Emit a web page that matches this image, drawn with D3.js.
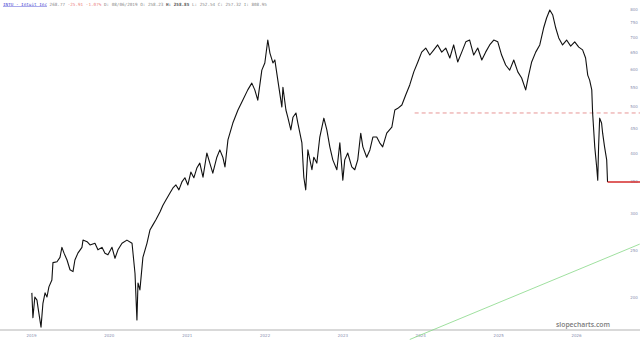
<!DOCTYPE html>
<html>
<head>
<meta charset="utf-8">
<script src="https://cdn.jsdelivr.net/npm/d3@7"></script>
<style>
  body { margin: 0; background: #fff; }
  svg { display: block; }
</style>
</head>
<body>
<svg id="canvas"></svg>
<script>
let width = 640
let height = 340

// price history
let dates = [
  "2019-01-05","2019-01-10","2019-01-19","2019-01-29","2019-02-03","2019-02-17","2019-02-26","2019-03-08","2019-03-17","2019-03-26",
  "2019-04-09","2019-04-14","2019-05-03","2019-05-17","2019-05-26","2019-06-05","2019-06-19","2019-07-03","2019-07-17","2019-07-26",
  "2019-08-09","2019-08-28","2019-09-02","2019-09-21","2019-10-05","2019-10-28","2019-11-11","2019-11-30","2019-12-14","2019-12-28",
  "2020-01-16","2020-01-30","2020-02-13","2020-03-03","2020-03-26","2020-04-19","2020-05-03","2020-05-12","2020-05-17","2020-05-26",
  "2020-06-09","2020-06-28","2020-07-12","2020-07-26","2020-08-09","2020-08-28","2020-09-11","2020-09-25","2020-10-14","2020-10-28",
  "2020-11-11","2020-11-25","2020-12-09","2020-12-23","2021-01-06","2021-01-20","2021-02-03","2021-02-17","2021-03-03","2021-03-18",
  "2021-04-05","2021-04-19","2021-05-03","2021-05-22","2021-06-05","2021-06-19","2021-06-29","2021-07-13","2021-08-05","2021-08-29",
  "2021-09-21","2021-10-14","2021-11-02","2021-11-16","2021-11-30","2021-12-19","2022-01-02","2022-01-16","2022-01-26","2022-02-09",
  "2022-02-18","2022-03-04","2022-03-23","2022-03-28","2022-04-11","2022-04-20","2022-05-04","2022-05-14","2022-05-28","2022-06-06",
  "2022-06-25","2022-07-04","2022-07-13","2022-07-23","2022-08-11","2022-08-20","2022-09-03","2022-09-17","2022-10-06","2022-10-20",
  "2022-11-03","2022-11-17","2022-12-06","2022-12-20","2023-01-03","2023-01-12","2023-01-26","2023-02-14","2023-02-28","2023-03-14",
  "2023-03-28","2023-04-07","2023-04-25","2023-05-10","2023-05-24","2023-06-11","2023-06-25","2023-07-09","2023-07-28","2023-08-21",
  "2023-09-04","2023-09-18","2023-10-07","2023-10-25","2023-11-13","2023-12-02","2023-12-21","2024-01-08","2024-01-27","2024-02-15",
  "2024-03-05","2024-03-23","2024-04-11","2024-04-30","2024-05-19","2024-06-06","2024-06-25","2024-07-14","2024-08-02","2024-08-20",
  "2024-09-08","2024-09-27","2024-10-16","2024-11-03","2024-11-22","2024-12-11","2024-12-30","2025-01-17","2025-02-05","2025-02-24",
  "2025-03-15","2025-04-03","2025-04-21","2025-05-10","2025-05-24","2025-06-07","2025-06-26","2025-07-15","2025-08-02","2025-08-16",
  "2025-08-31","2025-09-14","2025-09-28","2025-10-12","2025-10-30","2025-11-18","2025-12-07","2025-12-26","2026-01-14","2026-02-01",
  "2026-02-15","2026-02-25","2026-03-06","2026-03-16","2026-03-20","2026-03-25","2026-03-30","2026-04-08","2026-04-13","2026-04-17",
  "2026-04-22","2026-05-01","2026-05-06","2026-05-15","2026-05-25","2026-05-29"
]
let prices = [
  204,181,200,197,190,173,194,204,200,210,
  217,236,237,242,254,247,239,228,226,239,
  247,254,263,261,257,259,251,254,247,245,
  254,241,251,259,263,259,224,179,214,207,
  242,259,276,283,290,301,311,319,330,338,
  343,335,348,355,343,365,355,372,381,356,
  400,381,363,392,406,392,374,426,462,492,
  516,542,560,542,516,596,617,689,647,617,
  626,568,499,549,492,475,447,475,485,462,
  420,356,335,406,369,392,381,432,473,447,
  412,387,369,420,351,387,400,374,369,387,
  440,412,392,406,432,432,420,412,440,453,
  492,496,504,529,555,591,620,650,663,641,
  657,673,650,663,632,673,620,650,683,689,
  641,663,626,650,673,689,683,641,611,596,
  626,591,574,542,582,620,650,673,730,766,
  796,777,730,696,673,689,669,683,666,657,
  632,582,568,542,485,447,412,374,351,412,
  473,462,440,412,387,348
]

let yTicks = [800, 750, 700, 650, 600, 550, 500, 450, 400, 350, 300, 250, 200]
let yearLabels = ["2019", "2020", "2021", "2022", "2023", "2024", "2025", "2026"]

// reference levels
let dashedLevel = 485
let dashedStart = "2023-12-06"
let lastLevel = 348
let trendDates = ["2023-11-13", "2026-10-27"]
let trendValues = [163, 258]

let parse = d3.timeParse("%Y-%m-%d")
let series = dates.map((d, i) => ({ date: parse(d), value: prices[i] }))

let svg = d3.select('#canvas').attr('width', width).attr('height', height)

let xScale = d3.scaleTime()
    .domain([parse("2019-01-01"), parse("2026-01-01")])
    .range([31, 576])

let yScale = d3.scaleLog()
    .domain([200, 800])
    .range([297, 9])

// bottom rule
svg.append('line')
    .attr('x1', 0).attr('x2', width)
    .attr('y1', 330).attr('y2', 330)
    .attr('stroke', '#b4b4b4').attr('stroke-width', 1.2)

// x axis labels
let xAxis = d3.axisBottom(xScale)
    .tickValues(yearLabels.map(y => parse(y + "-01-01")))
    .tickFormat(d3.timeFormat("%Y"))
    .tickSize(0)
    .tickPadding(0)
let gx = svg.append('g').attr('transform', 'translate(0,334)').call(xAxis)
gx.select('.domain').remove()
gx.selectAll('text')
    .attr('font-family', 'DejaVu Sans')
    .attr('font-size', 4)
    .attr('fill', '#8a8fb0')

// y axis labels on the right
let yAxis = d3.axisRight(yScale)
    .tickValues(yTicks)
    .tickFormat(d3.format('d'))
    .tickSize(0)
    .tickPadding(0)
let gy = svg.append('g').attr('transform', 'translate(634,0)').call(yAxis)
gy.select('.domain').remove()
gy.selectAll('text')
    .attr('text-anchor', 'middle')
    .attr('font-family', 'DejaVu Sans')
    .attr('font-size', 4)
    .attr('fill', '#8a8fb0')

// green trend line
svg.append('line')
    .attr('x1', xScale(parse(trendDates[0]))).attr('y1', yScale(trendValues[0]))
    .attr('x2', xScale(parse(trendDates[1]))).attr('y2', yScale(trendValues[1]))
    .attr('stroke', '#86d886').attr('stroke-width', 0.8)

// dashed level
svg.append('line')
    .attr('x1', xScale(parse(dashedStart))).attr('x2', width)
    .attr('y1', yScale(dashedLevel)).attr('y2', yScale(dashedLevel))
    .attr('stroke', '#e07a7a').attr('stroke-width', 0.8)
    .attr('stroke-dasharray', '4,3')

// price line
let line = d3.line()
    .x(d => xScale(d.date))
    .y(d => yScale(d.value))
svg.append('path')
    .datum(series)
    .attr('d', line)
    .attr('fill', 'none')
    .attr('stroke', '#111')
    .attr('stroke-width', 1.1)
    .attr('stroke-linejoin', 'round')

// last price level
let last = series[series.length - 1]
svg.append('line')
    .attr('x1', xScale(last.date)).attr('x2', width)
    .attr('y1', yScale(lastLevel)).attr('y2', yScale(lastLevel))
    .attr('stroke', '#d42a2a').attr('stroke-width', 1.6)

// watermark
svg.append('text')
    .attr('x', 583).attr('y', 327)
    .attr('text-anchor', 'middle')
    .attr('font-family', 'Open Sans')
    .attr('font-weight', 600)
    .attr('font-size', 6.8)
    .attr('fill', '#7a7a7a')
    .text('slopecharts.com')

// header line
let header = svg.append('text')
    .attr('x', 3).attr('y', 5.5)
    .attr('font-family', 'DejaVu Sans Mono')
    .attr('font-size', 4.3)
    .attr('fill', '#8a8a8a')
header.append('tspan').attr('fill', '#3a3ad0').attr('text-decoration', 'underline').text('INTU - Intuit Inc')
header.append('tspan').text(' 268.77 ')
header.append('tspan').attr('fill', '#ec7f7f').text('-25.91 -1.07%')
header.append('tspan').text(' D: 08/06/2019 O: 258.23 ')
header.append('tspan').attr('font-weight', 'bold').attr('fill', '#555').text('H: 258.85')
header.append('tspan').text(' L: 252.54 C: 257.32 I: 808.95')
</script>
</body>
</html>
